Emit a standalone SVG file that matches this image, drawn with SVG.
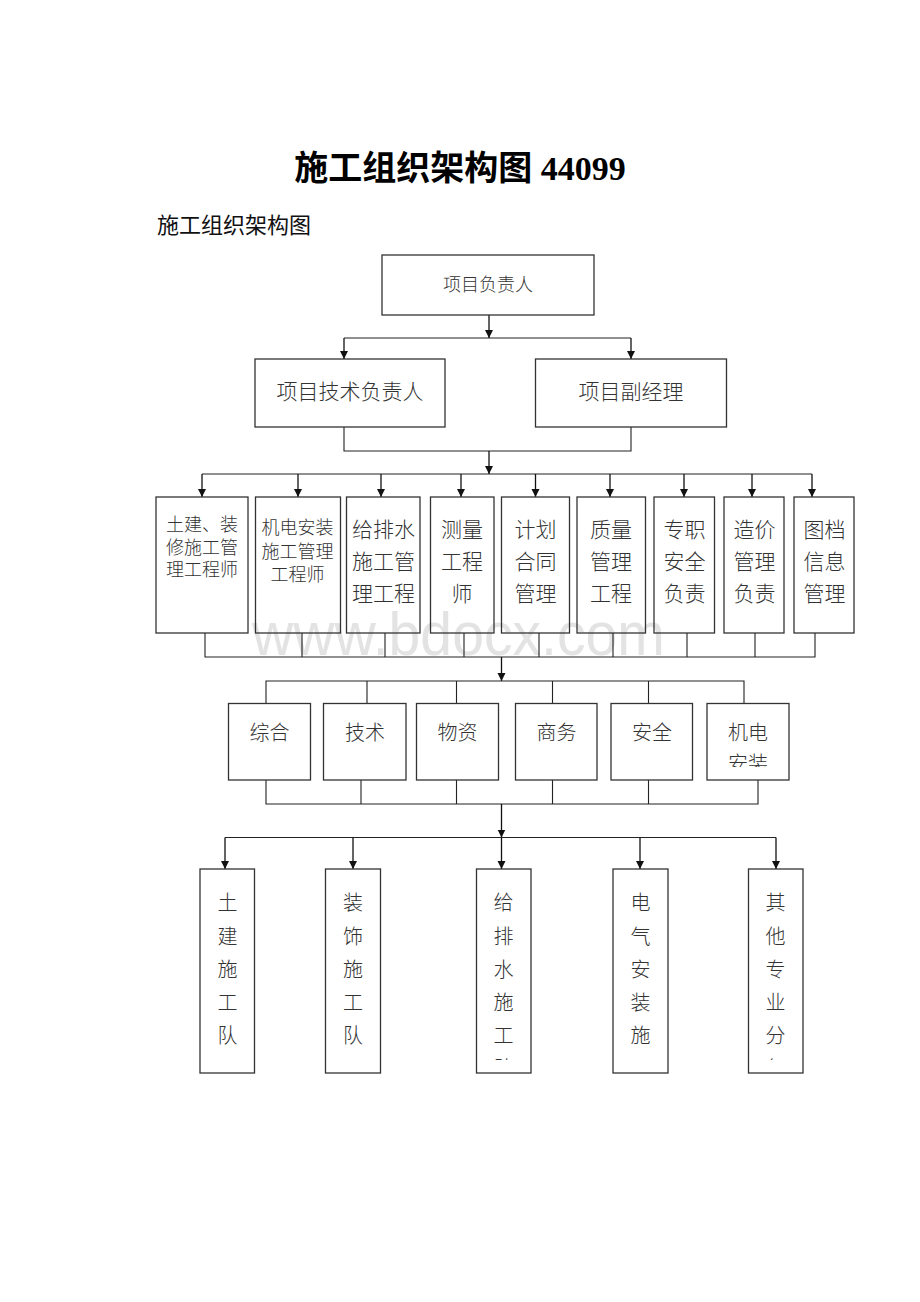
<svg xmlns="http://www.w3.org/2000/svg" width="920" height="1302" viewBox="0 0 920 1302">
<style>
.box{fill:none;stroke:#333;stroke-width:1.3}
.ln{fill:none;stroke:#222;stroke-width:1.1}
.ar{fill:none;stroke:#111;stroke-width:1.3;marker-end:url(#ah)}
.t{font-family:"Liberation Serif","Noto Sans CJK SC",serif;fill:#333;text-anchor:middle;dominant-baseline:central;font-weight:300}
.s18{font-size:18px}.s20{font-size:20px}.s21{font-size:21px}
</style>
<defs>
<marker id="ah" viewBox="0 0 10 10" refX="10" refY="5" markerWidth="8" markerHeight="9" markerUnits="userSpaceOnUse" orient="auto">
<path d="M0,0 L10,5 L0,10 z" fill="#111"/>
</marker>
<clipPath id="c6"><rect x="700" y="700" width="100" height="67"/></clipPath>
<clipPath id="cb"><rect x="0" y="869" width="920" height="191"/></clipPath>
</defs>
<rect width="920" height="1302" fill="#fff"/>
<text x="252" y="655" font-family="Liberation Sans,Arial,sans-serif" font-size="62" fill="#e3e3e3" textLength="413" lengthAdjust="spacingAndGlyphs">www.bdocx.com</text>
<text x="460" y="168" font-family="Liberation Serif,'Noto Sans CJK SC',serif" font-size="34" font-weight="bold" text-anchor="middle" dominant-baseline="central" fill="#000">施工组织架构图 44099</text>
<text x="157" y="225" font-family="Liberation Serif,'Noto Sans CJK SC',serif" font-size="22" dominant-baseline="central" fill="#111">施工组织架构图</text>
<g id="connectors">
<path class="ar" d="M489,315 V338"/>
<path class="ln" d="M344,338 H631"/>
<path class="ar" d="M344,338 V359"/>
<path class="ar" d="M631,338 V359"/>
<path class="ln" d="M344,427 V451 H631 V427"/>
<path class="ar" d="M489,451 V474"/>
<path class="ln" d="M202,474 H812"/>
<path class="ar" d="M202,474 V497"/>
<path class="ar" d="M298,474 V497"/>
<path class="ar" d="M381,474 V497"/>
<path class="ar" d="M461,474 V497"/>
<path class="ar" d="M535.5,474 V497"/>
<path class="ar" d="M610,474 V497"/>
<path class="ar" d="M684,474 V497"/>
<path class="ar" d="M752,474 V497"/>
<path class="ar" d="M812,474 V497"/>
<path class="ln" d="M205,633 V657 H815 V633 M302,633 V657 M385,633 V657 M464,633 V657 M539,633 V657 M613,633 V657 M687,633 V657 M755,633 V657"/>
<path class="ar" d="M501.5,657 V681"/>
<path class="ln" d="M266,703 V681 H744 V703 M367,681 V703 M456.5,681 V703 M552.5,681 V703 M648.5,681 V703"/>
<path class="ln" d="M266,780 V804 H758 V780 M361,780 V804 M456.5,780 V804 M552.5,780 V804 M648.5,780 V804"/>
<path class="ar" d="M501.5,804 V837.5"/>
<path class="ln" d="M225,837.5 H776"/>
<path class="ar" d="M225,837.5 V869"/>
<path class="ar" d="M353,837.5 V869"/>
<path class="ar" d="M501.5,837.5 V869"/>
<path class="ar" d="M640,837.5 V869"/>
<path class="ar" d="M776,837.5 V869"/>
</g>
<g id="n-top"><rect class="box" x="382" y="255" width="212" height="60"/><text class="t s18" x="488" y="285">项目负责人</text></g>
<g id="n-tech"><rect class="box" x="255" y="359" width="190" height="68"/><text class="t s21" x="350" y="392">项目技术负责人</text></g>
<g id="n-deputy"><rect class="box" x="535.5" y="359" width="191" height="68"/><text class="t s21" x="631" y="392">项目副经理</text></g>
<g id="n-r1"><rect class="box" x="156" y="497" width="92" height="136"/><text class="t s18" x="202"><tspan x="202" y="525">土建、装</tspan><tspan x="202" y="548">修施工管</tspan><tspan x="202" y="570">理工程师</tspan></text></g>
<g id="n-r2"><rect class="box" x="255.5" y="497" width="85" height="136"/><text class="t s18" x="297.5"><tspan x="297.5" y="528">机电安装</tspan><tspan x="297.5" y="551.5">施工管理</tspan><tspan x="297.5" y="575">工程师</tspan></text></g>
<g id="n-r3"><rect class="box" x="346.5" y="497" width="73.5" height="136"/><text class="t s21"><tspan x="383.5" y="530">给排水</tspan><tspan x="383.5" y="561.5">施工管</tspan><tspan x="383.5" y="593.5">理工程</tspan></text></g>
<g id="n-r4"><rect class="box" x="430.5" y="497" width="63.5" height="136"/><text class="t s21"><tspan x="462" y="530">测量</tspan><tspan x="462" y="561.5">工程</tspan><tspan x="462" y="593.5">师</tspan></text></g>
<g id="n-r5"><rect class="box" x="501.5" y="497" width="68" height="136"/><text class="t s21"><tspan x="535.5" y="530">计划</tspan><tspan x="535.5" y="561.5">合同</tspan><tspan x="535.5" y="593.5">管理</tspan></text></g>
<g id="n-r6"><rect class="box" x="577" y="497" width="68.5" height="136"/><text class="t s21"><tspan x="611" y="530">质量</tspan><tspan x="611" y="561.5">管理</tspan><tspan x="611" y="593.5">工程</tspan></text></g>
<g id="n-r7"><rect class="box" x="654" y="497" width="60.5" height="136"/><text class="t s21"><tspan x="684.5" y="530">专职</tspan><tspan x="684.5" y="561.5">安全</tspan><tspan x="684.5" y="593.5">负责</tspan></text></g>
<g id="n-r8"><rect class="box" x="724" y="497" width="60" height="136"/><text class="t s21"><tspan x="754.5" y="530">造价</tspan><tspan x="754.5" y="561.5">管理</tspan><tspan x="754.5" y="593.5">负责</tspan></text></g>
<g id="n-r9"><rect class="box" x="794" y="497" width="60" height="136"/><text class="t s21"><tspan x="824.5" y="530">图档</tspan><tspan x="824.5" y="561.5">信息</tspan><tspan x="824.5" y="593.5">管理</tspan></text></g>
<g id="n-d1"><rect class="box" x="228.5" y="703.5" width="82" height="76.5"/><text class="t s20" x="269.5" y="732.5">综合</text></g>
<g id="n-d2"><rect class="box" x="323.5" y="703.5" width="82.5" height="76.5"/><text class="t s20" x="365" y="732.5">技术</text></g>
<g id="n-d3"><rect class="box" x="416.5" y="703.5" width="82" height="76.5"/><text class="t s20" x="457.5" y="732.5">物资</text></g>
<g id="n-d4"><rect class="box" x="515.5" y="703.5" width="81.5" height="76.5"/><text class="t s20" x="556.5" y="732.5">商务</text></g>
<g id="n-d5"><rect class="box" x="611" y="703.5" width="81.5" height="76.5"/><text class="t s20" x="652" y="732.5">安全</text></g>
<g id="n-d6"><rect class="box" x="707" y="703.5" width="82" height="76.5"/><text class="t s20" x="748" y="732.5">机电</text><text class="t s20" x="748" y="764" clip-path="url(#c6)">安装</text></g>
<g id="n-b1"><rect class="box" x="200" y="869" width="54.5" height="204"/><text class="t s20" clip-path="url(#cb)"><tspan x="227.5" y="903">土</tspan><tspan x="227.5" y="936.5">建</tspan><tspan x="227.5" y="970">施</tspan><tspan x="227.5" y="1003">工</tspan><tspan x="227.5" y="1035.5">队</tspan></text></g>
<g id="n-b2"><rect class="box" x="325.5" y="869" width="55" height="204"/><text class="t s20" clip-path="url(#cb)"><tspan x="353" y="903">装</tspan><tspan x="353" y="936.5">饰</tspan><tspan x="353" y="970">施</tspan><tspan x="353" y="1003">工</tspan><tspan x="353" y="1035.5">队</tspan></text></g>
<g id="n-b3"><rect class="box" x="476.5" y="869" width="54.5" height="204"/><text class="t s20" clip-path="url(#cb)"><tspan x="503.5" y="903">给</tspan><tspan x="503.5" y="936.5">排</tspan><tspan x="503.5" y="970">水</tspan><tspan x="503.5" y="1003">施</tspan><tspan x="503.5" y="1035.5">工</tspan><tspan x="503.5" y="1069">队</tspan></text></g>
<g id="n-b4"><rect class="box" x="613" y="869" width="55" height="204"/><text class="t s20" clip-path="url(#cb)"><tspan x="640.5" y="903">电</tspan><tspan x="640.5" y="936.5">气</tspan><tspan x="640.5" y="970">安</tspan><tspan x="640.5" y="1003">装</tspan><tspan x="640.5" y="1035.5">施</tspan><tspan x="640.5" y="1069">工</tspan></text></g>
<g id="n-b5"><rect class="box" x="748.5" y="869" width="54.5" height="204"/><text class="t s20" clip-path="url(#cb)"><tspan x="775.5" y="903">其</tspan><tspan x="775.5" y="936.5">他</tspan><tspan x="775.5" y="970">专</tspan><tspan x="775.5" y="1003">业</tspan><tspan x="775.5" y="1035.5">分</tspan><tspan x="775.5" y="1069">包</tspan></text></g>
</svg>
